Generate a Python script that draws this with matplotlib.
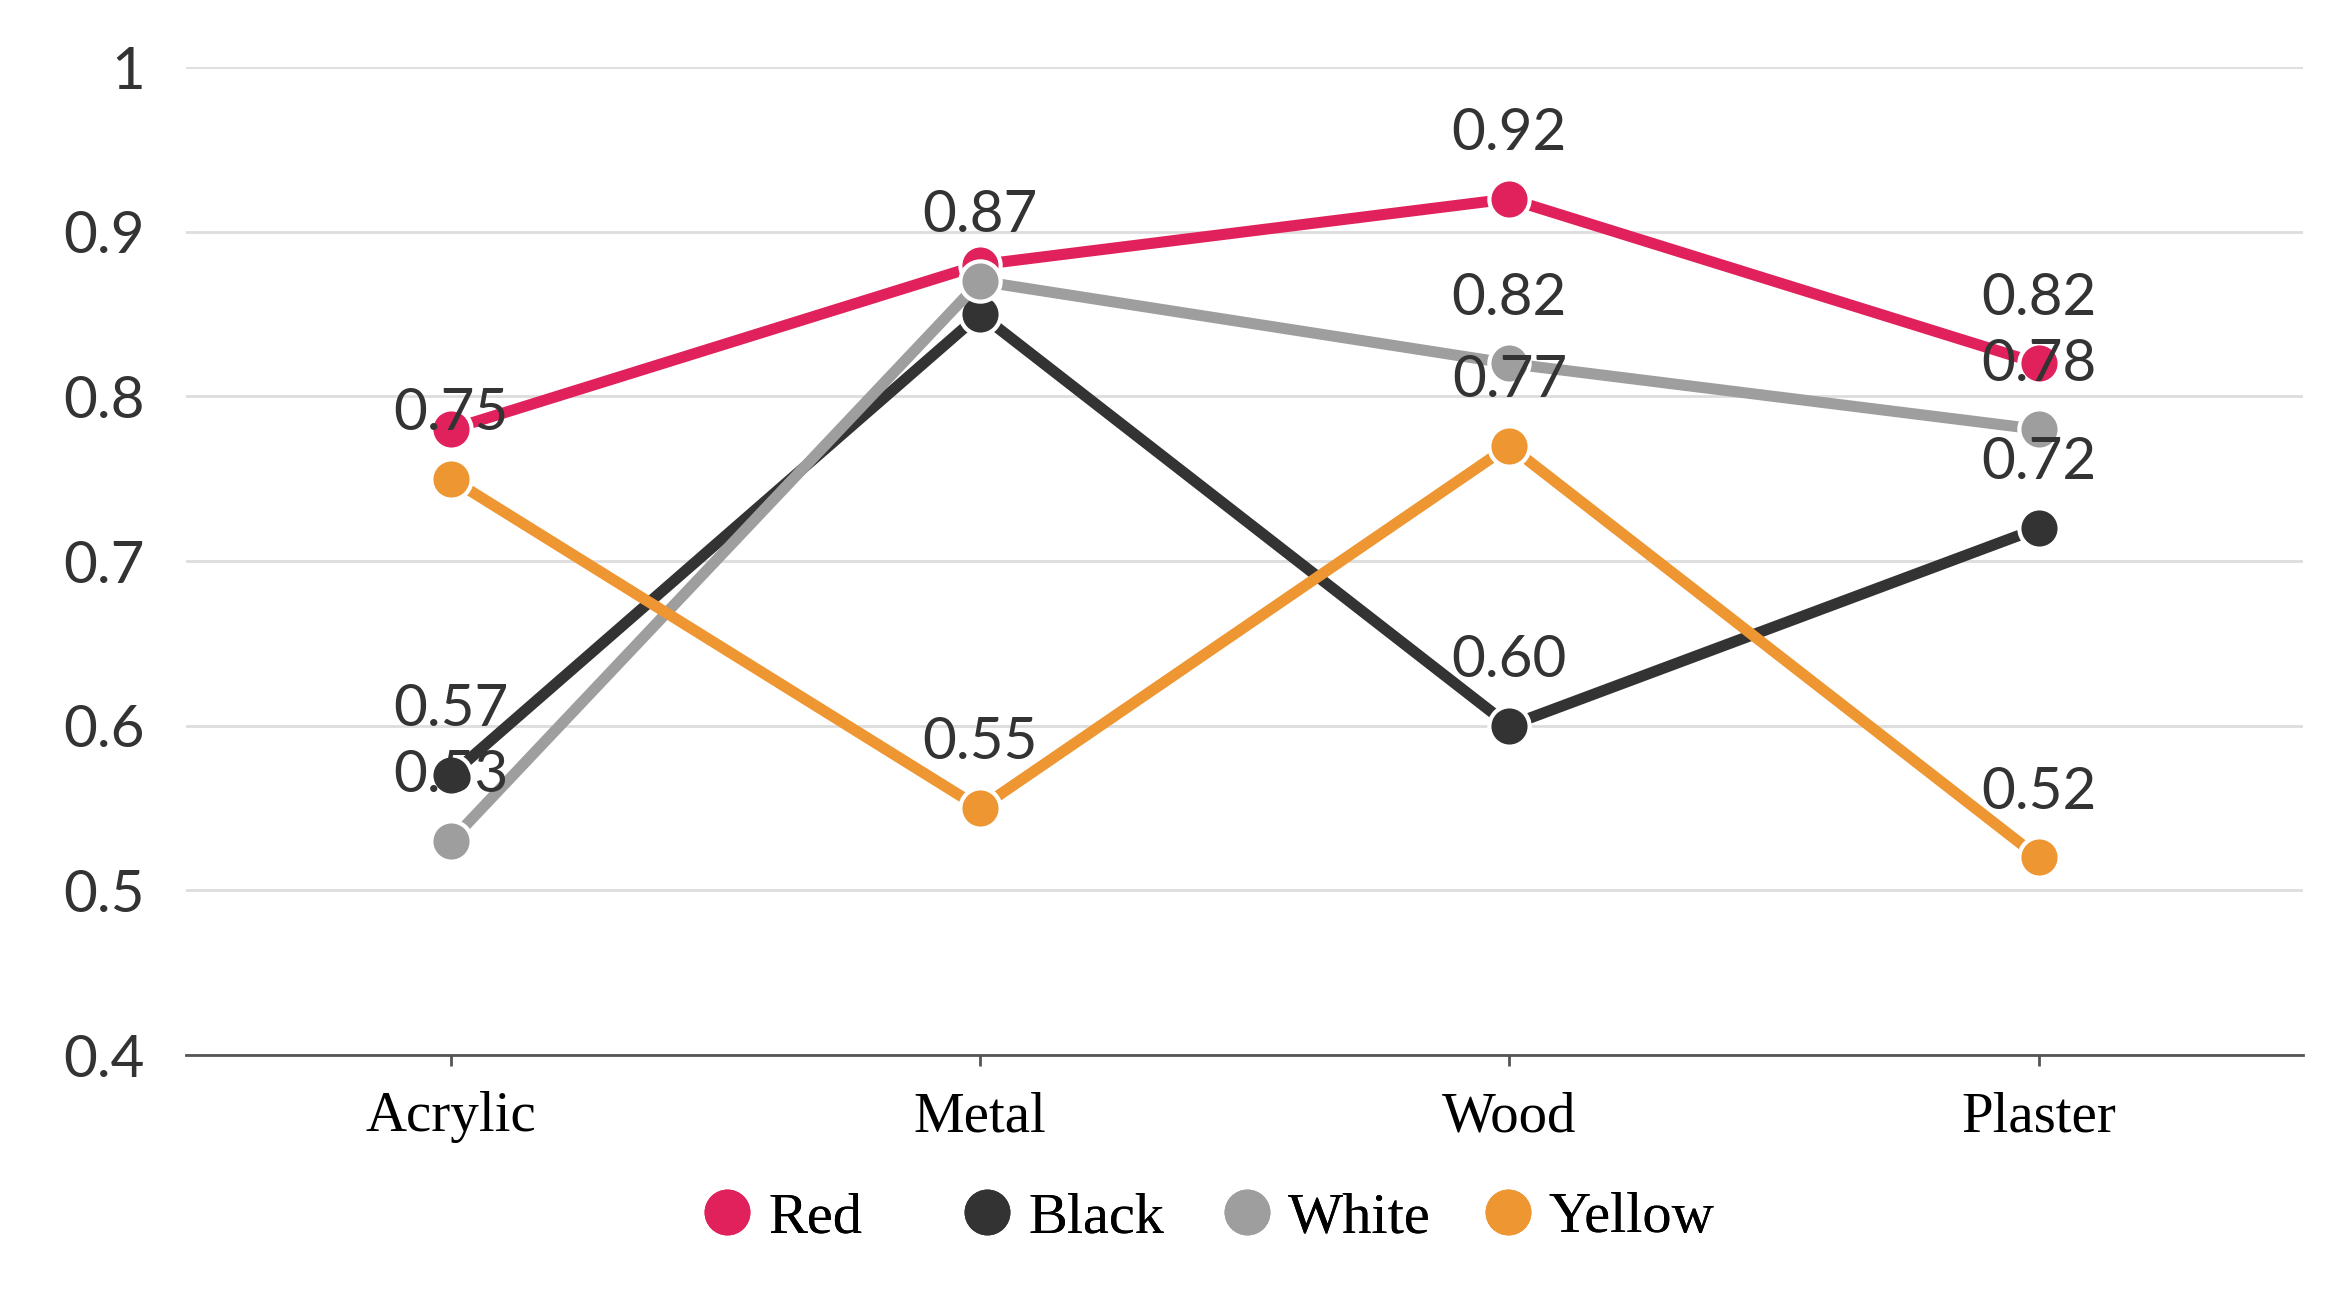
import matplotlib
matplotlib.use('Agg')
import matplotlib.pyplot as plt
from matplotlib.lines import Line2D

# data
categories = ['Acrylic', 'Metal', 'Wood', 'Plaster']
series_names = ['Red', 'Black', 'White', 'Yellow']
red = [0.78, 0.88, 0.92, 0.82]
black = [0.57, 0.85, 0.60, 0.72]
white = [0.53, 0.87, 0.82, 0.78]
yellow = [0.75, 0.55, 0.77, 0.52]
y_ticks = [0.4, 0.5, 0.6, 0.7, 0.8, 0.9, 1.0]
y_tick_labels = ['0.4', '0.5', '0.6', '0.7', '0.8', '0.9', '1']
# value labels that are not drawn in the chart (hidden by overlap)
hidden_labels = [('Red', 'Acrylic'), ('Red', 'Metal'), ('Black', 'Metal')]

colors = {'Red': '#E0215B', 'Black': '#333333', 'White': '#9E9E9E', 'Yellow': '#EE9631'}
values = {'Red': red, 'Black': black, 'White': white, 'Yellow': yellow}

sans = 'Lato'
serif = 'Liberation Serif'
txt_col = '#333333'

fig = plt.figure(figsize=(23.43, 12.91), dpi=100)
ax = fig.add_axes([0.0795, 0.1828, 0.9035, 0.7652])

x = list(range(len(categories)))
for name in ['Red', 'Black', 'White', 'Yellow']:
    ax.plot(x, values[name], color=colors[name], lw=8, marker='o', ms=29,
            mfc=colors[name], mec='white', mew=3, zorder=3, solid_capstyle='butt')

for name in series_names:
    for i, v in enumerate(values[name]):
        if (name, categories[i]) in hidden_labels:
            continue
        ax.annotate('%.2f' % v, (i, v), xytext=(0, 47), textcoords='offset points',
                    ha='center', va='center', fontsize=42, family=sans,
                    color=txt_col, zorder=5)

ax.set_xlim(-0.5, 3.5)
ax.set_ylim(0.4, 1.0)
ax.set_yticks(y_ticks)
ax.set_yticklabels(y_tick_labels, family=sans, fontsize=42, color=txt_col)
ax.set_xticks(x)
ax.set_xticklabels(categories, family=serif, fontsize=41, color='black')
ax.tick_params(axis='y', length=0, pad=30)
ax.tick_params(axis='x', length=8, width=2, color='#555555', pad=18)
ax.grid(axis='y', color='#DDDDDD', lw=2, zorder=0)
ax.set_axisbelow(True)
for s in ['left', 'right', 'top']:
    ax.spines[s].set_visible(False)
ax.spines['bottom'].set_color('#555555')
ax.spines['bottom'].set_linewidth(2)
ax.spines['bottom'].set_zorder(4)

# legend: equally spaced entries
leg_x = [0.2905, 0.4015, 0.5125, 0.6235]
for name, lx in zip(series_names, leg_x):
    h = Line2D([], [], ls='none', marker='o', ms=32, mfc=colors[name], mec=colors[name])
    leg = fig.legend([h], [name], loc='center left', bbox_to_anchor=(lx, 0.0565),
                     frameon=False, handlelength=0.6, handletextpad=0.4, borderpad=0,
                     prop={'family': serif, 'size': 42})
    fig.add_artist(leg)

fig.savefig('out.png', dpi=100, facecolor='white')
